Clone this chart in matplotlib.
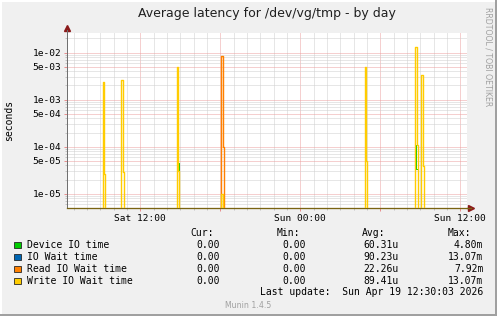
import numpy as np
import matplotlib
matplotlib.use("Agg")
import matplotlib.pyplot as plt
import matplotlib.dates as mdates
from matplotlib.ticker import FixedLocator, FuncFormatter, NullFormatter
from matplotlib.lines import Line2D
from matplotlib.patches import Rectangle

# graph window (munin "by day" = last 30 hours, 5 minute steps)
start = np.datetime64("2026-04-18T06:30")
end = np.datetime64("2026-04-19T12:30")

# only the non-zero 5-minute samples (all others are 0.00)
device_times = ["2026-04-18T14:45", "2026-04-18T14:50",
                "2026-04-19T08:35", "2026-04-19T08:40", "2026-04-19T08:45"]
device_vals = [4.8e-3, 4.6e-5, 1.1e-4, 3.4e-5, 3.4e-5]

iowait_times = ["2026-04-18T09:10", "2026-04-18T09:15", "2026-04-18T10:35", "2026-04-18T10:40",
                "2026-04-18T14:45", "2026-04-18T14:50", "2026-04-18T18:05", "2026-04-18T18:10",
                "2026-04-19T04:50", "2026-04-19T04:55", "2026-04-19T08:35", "2026-04-19T08:40",
                "2026-04-19T08:45", "2026-04-19T09:05", "2026-04-19T09:10"]
iowait_vals = [2.4e-3, 2.6e-5, 2.66e-3, 2.9e-5,
               4.9e-3, 3.0e-5, 8.3e-3, 1.0e-4,
               4.87e-3, 4.87e-5, 1.307e-2, 1.307e-2,
               1.1e-4, 3.4e-3, 3.95e-5]

read_times = ["2026-04-18T18:05", "2026-04-18T18:10"]
read_vals = [8.3e-3, 1.0e-4]

write_times = ["2026-04-18T09:10", "2026-04-18T09:15", "2026-04-18T10:35", "2026-04-18T10:40",
               "2026-04-18T14:45", "2026-04-18T14:50", "2026-04-18T18:05",
               "2026-04-19T04:50", "2026-04-19T04:55", "2026-04-19T08:35", "2026-04-19T08:40",
               "2026-04-19T08:45", "2026-04-19T09:05", "2026-04-19T09:10"]
write_vals = [2.4e-3, 2.6e-5, 2.66e-3, 2.9e-5,
              4.9e-3, 3.0e-5, 1.0e-5,
              4.87e-3, 4.87e-5, 1.307e-2, 1.307e-2,
              1.1e-4, 3.4e-3, 3.95e-5]

names = ["Device IO time", "IO Wait time", "Read IO Wait time", "Write IO Wait time"]
colors = ["#00CC00", "#0066B3", "#FF8000", "#FFCC00"]
cur = ["0.00", "0.00", "0.00", "0.00"]
mins = ["0.00", "0.00", "0.00", "0.00"]
avgs = ["60.31u", "90.23u", "22.26u", "89.41u"]
maxs = ["4.80m", "13.07m", "7.92m", "13.07m"]

ytick_vals = [1e-5, 5e-5, 1e-4, 5e-4, 1e-3, 5e-3, 1e-2]
ytick_labels = ["1e-05", "5e-05", "1e-04", "5e-04", "1e-03", "5e-03", "1e-02"]
xtick_labels = {(18, 12): "Sat 12:00", (19, 0): "Sun 00:00", (19, 12): "Sun 12:00"}

mono = "DejaVu Sans Mono"
px = 0.72  # one pixel in points at dpi 100

fig = plt.figure(figsize=(4.97, 3.16), dpi=100)
fig.patch.set_facecolor("#F0F0F0")
ax = fig.add_axes([67 / 497, 1 - 208 / 316, 400 / 497, 175 / 316])
ax.set_facecolor("white")

grid = np.arange(start, end + np.timedelta64(5, "m"), np.timedelta64(5, "m"))
xs = grid.astype("datetime64[s]").astype(object)


def series(times, vals):
    y = np.zeros(len(grid))
    for t, v in zip(times, vals):
        y[int((np.datetime64(t) - start) / np.timedelta64(5, "m"))] = v
    return np.where(y > 0, y, 1e-12)


all_series = [(device_times, device_vals), (iowait_times, iowait_vals),
              (read_times, read_vals), (write_times, write_vals)]
widths = [1.0, 0.7, 1.4, 1.4]
for (t, v), c, w in zip(all_series, colors, widths):
    ax.plot(xs, series(t, v), drawstyle="steps-post", color=c, lw=w * px, zorder=3)

ax.set_yscale("log")
ax.set_ylim(5.0e-6, 2.6e-2)
ax.set_xlim(start.astype(object), end.astype(object))

# y grid
ax.yaxis.set_major_locator(FixedLocator(ytick_vals))
ax.set_yticklabels(ytick_labels)
minor_y = [m * 10.0 ** e for e in range(-6, -1) for m in (2, 3, 4, 6, 7, 8, 9)]
ax.yaxis.set_minor_locator(FixedLocator(minor_y))
ax.yaxis.set_minor_formatter(NullFormatter())

# x grid
ax.xaxis.set_major_locator(mdates.HourLocator(byhour=[0, 6, 12, 18]))
ax.xaxis.set_minor_locator(mdates.HourLocator())
ax.xaxis.set_major_formatter(FuncFormatter(
    lambda v, p: xtick_labels.get((mdates.num2date(v).day, mdates.num2date(v).hour), "")))

ax.grid(which="major", color="#EDA0A0", lw=px, linestyle=(0, (1, 1)), zorder=1)
ax.grid(which="minor", color="#CFCFCF", lw=px, linestyle=(0, (1, 1)), zorder=1)
ax.set_axisbelow(True)

ax.tick_params(axis="both", which="major", labelsize=6.8, length=3 * px, width=px,
               color="#E89090", pad=2)
ax.tick_params(axis="both", which="minor", length=2 * px, width=px, color="#C4C4C4")
for lab in ax.get_xticklabels() + ax.get_yticklabels():
    lab.set_family(mono)

for s in ("top", "right"):
    ax.spines[s].set_visible(False)
ax.spines["left"].set_color("#707070")
ax.spines["left"].set_linewidth(px)
ax.spines["left"].set_bounds(5.0e-6, 3.0e-2)
ax.spines["bottom"].set_color("#7A6412")
ax.spines["bottom"].set_linewidth(1.3 * px)

# axis arrows
ax.plot([0], [1.03], marker="^", color="#8B1A1A", markersize=4, transform=ax.transAxes,
        clip_on=False)
ax.plot([1.01], [0], marker=">", color="#8B1A1A", markersize=4, transform=ax.transAxes,
        clip_on=False)
ax.add_line(Line2D([1.0, 1.01], [0, 0], color="#7A6412", lw=1.3 * px,
                   transform=ax.transAxes, clip_on=False))

ax.set_ylabel("seconds", family=mono, fontsize=7)
ax.yaxis.set_label_coords(-53 / 400, 0.5)

fig.text(267 / 497, 1 - 13 / 316, "Average latency for /dev/vg/tmp - by day", ha="center",
         va="center", fontsize=9.0, family="DejaVu Sans", color="#202020")
fig.text(488 / 497, 1 - 57 / 316, "RRDTOOL / TOBI OETIKER", rotation=270, ha="center",
         va="center", fontsize=5.6, color="#A0A0A0")

# legend block
def fx(x):
    return x / 497


def fy(y):
    return 1 - y / 316


head_x = [190.7, 276.7, 362.0, 447.7]
for hx, h in zip(head_x, ["Cur:", "Min:", "Avg:", "Max:"]):
    fig.text(fx(hx), fy(233.3), h, family=mono, fontsize=7, va="center", ha="left")

col_right = [220, 306, 398.3, 483.3]
row_y = [244.7, 256.7, 268.7, 280.7]
for i, name in enumerate(names):
    fig.patches.append(Rectangle((fx(14), fy(row_y[i] + 3.5)), 6.5 / 497, 6.5 / 316,
                                 transform=fig.transFigure, facecolor=colors[i],
                                 edgecolor="#202020", lw=0.8 * px))
    fig.text(fx(26.7), fy(row_y[i]), name, family=mono, fontsize=7, va="center", ha="left")
    for cx, val in zip(col_right, [cur[i], mins[i], avgs[i], maxs[i]]):
        fig.text(fx(cx), fy(row_y[i]), val, family=mono, fontsize=7, va="center", ha="right")

fig.text(fx(483.3), fy(292.3), "Last update:  Sun Apr 19 12:30:03 2026", family=mono,
         fontsize=7, va="center", ha="right")
fig.text(fx(248.5), fy(305), "Munin 1.4.5", fontsize=5.6, color="#A0A0A0", va="center",
         ha="center")

# 3d-ish frame of the rrdtool image
fig.add_artist(Line2D([0, 1], [1 - 0.5 / 316, 1 - 0.5 / 316], color="#FFFFFF", lw=2 * px,
                      transform=fig.transFigure))
fig.add_artist(Line2D([0.5 / 497, 0.5 / 497], [0, 1], color="#FFFFFF", lw=2 * px,
                      transform=fig.transFigure))
fig.add_artist(Line2D([1 - 1.5 / 497, 1 - 1.5 / 497], [0, 1], color="#A0A0A0", lw=3 * px,
                      transform=fig.transFigure))
fig.add_artist(Line2D([0, 1], [1.5 / 316, 1.5 / 316], color="#A0A0A0", lw=3 * px,
                      transform=fig.transFigure))

fig.savefig("out.png", dpi=100, facecolor=fig.get_facecolor())
